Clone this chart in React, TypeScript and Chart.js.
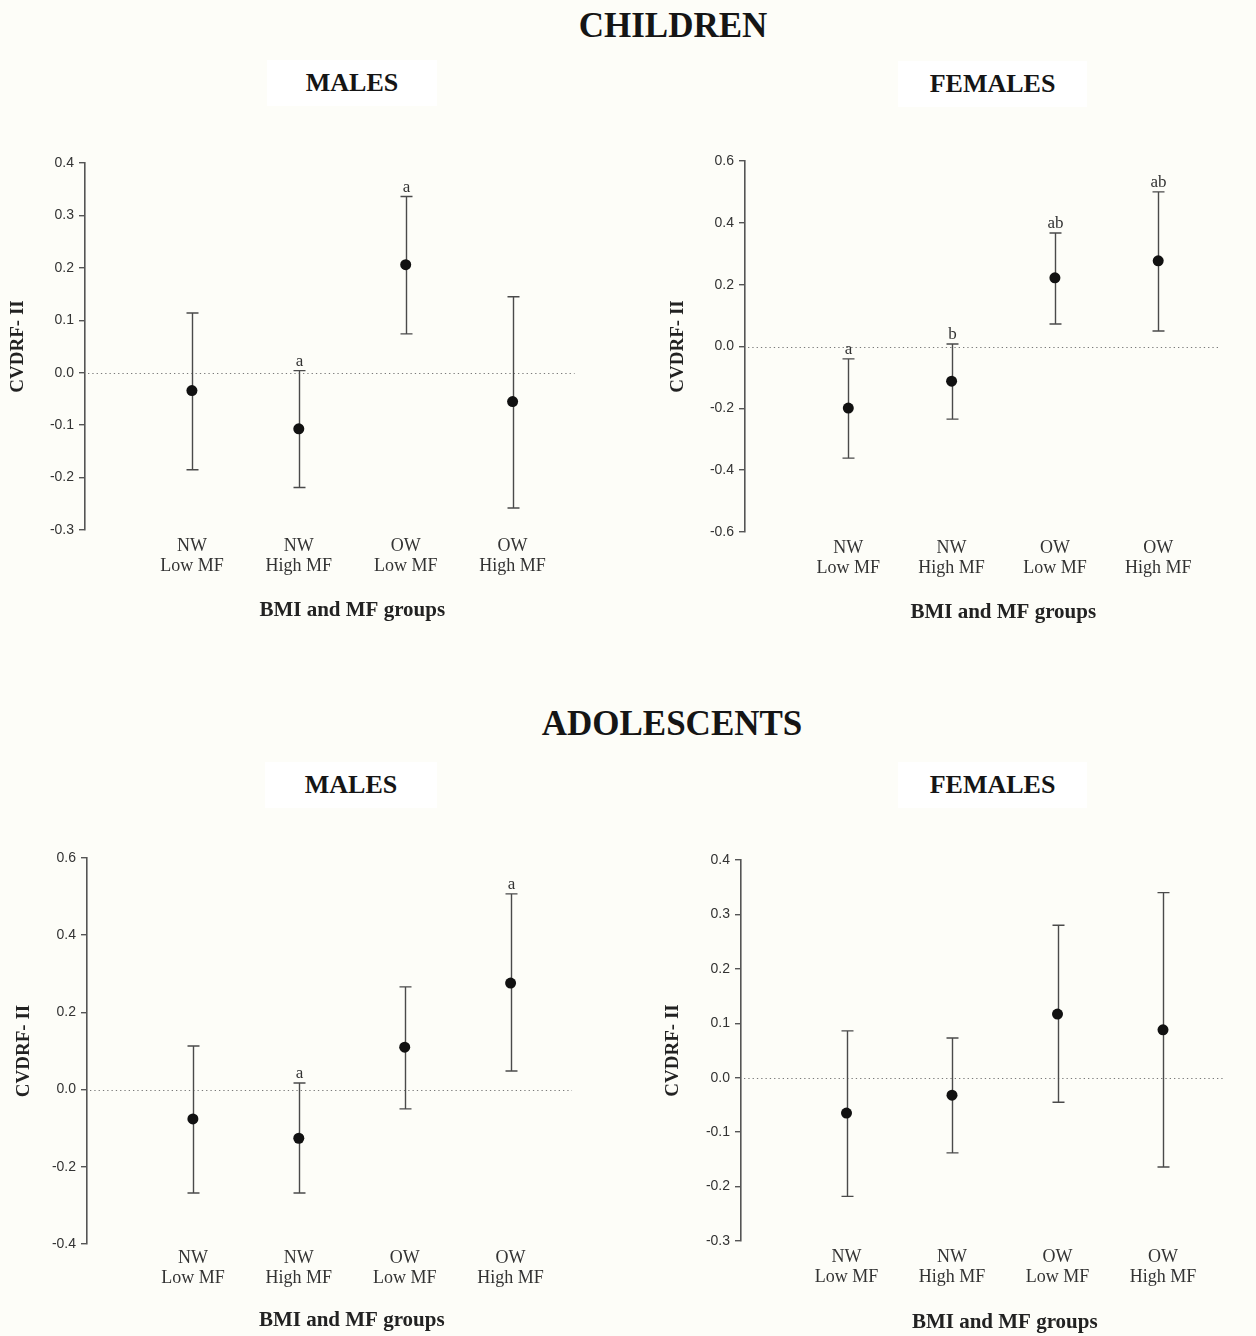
import React, { useEffect, useRef } from "react";
import { Chart, registerables } from "chart.js";

Chart.register(...registerables);

// Group categories along the x axis
const groupLabels: string[][] = [
  ["NW", "Low MF"],
  ["NW", "High MF"],
  ["OW", "Low MF"],
  ["OW", "High MF"],
];
const groupPositions = [1, 2, 3, 4];

// Children – males
const childMaleMean = [-0.034, -0.107, 0.206, -0.055];
const childMaleLow = [-0.185, -0.219, 0.074, -0.258];
const childMaleHigh = [0.114, 0.004, 0.336, 0.145];
const childMaleLetters = ["", "a", "a", ""];
const childMaleTicks = [-0.3, -0.2, -0.1, 0, 0.1, 0.2, 0.3, 0.4];

// Children – females
const childFemaleMean = [-0.199, -0.112, 0.222, 0.277];
const childFemaleLow = [-0.361, -0.235, 0.073, 0.05];
const childFemaleHigh = [-0.04, 0.008, 0.367, 0.5];
const childFemaleLetters = ["a", "b", "ab", "ab"];
const childFemaleTicks = [-0.6, -0.4, -0.2, 0, 0.2, 0.4, 0.6];

// Adolescents – males
const adolMaleMean = [-0.076, -0.126, 0.11, 0.276];
const adolMaleLow = [-0.268, -0.268, -0.05, 0.048];
const adolMaleHigh = [0.113, 0.017, 0.266, 0.507];
const adolMaleLetters = ["", "a", "", "a"];
const adolMaleTicks = [-0.4, -0.2, 0, 0.2, 0.4, 0.6];

// Adolescents – females
const adolFemaleMean = [-0.065, -0.032, 0.117, 0.088];
const adolFemaleLow = [-0.218, -0.138, -0.045, -0.164];
const adolFemaleHigh = [0.086, 0.073, 0.28, 0.34];
const adolFemaleLetters = ["", "", "", ""];
const adolFemaleTicks = [-0.3, -0.2, -0.1, 0, 0.1, 0.2, 0.3, 0.4];

const BG = "#fdfdf8";
const SERIF = "'Liberation Serif', 'Times New Roman', serif";
const SANS = "'Liberation Sans', Arial, sans-serif";

const errorBarPlugin = {
  id: "errorBars",
  beforeDatasetsDraw(chart: any, _args: any, opts: any) {
    const { ctx } = chart;
    const x = chart.scales.x;
    const y = chart.scales.y;
    ctx.save();
    // dotted reference line at zero
    const y0 = Math.round(y.getPixelForValue(0)) + 0.5;
    ctx.strokeStyle = "#7a7a7a";
    ctx.lineWidth = 1;
    ctx.setLineDash([1.3, 3]);
    ctx.beginPath();
    ctx.moveTo(x.getPixelForValue(0) + 3, y0);
    ctx.lineTo(x.getPixelForValue(opts.zeroEnd), y0);
    ctx.stroke();
    ctx.setLineDash([]);

    ctx.strokeStyle = "#4a4a4a";
    ctx.lineWidth = 1.4;
    const cap = 6;
    opts.low.forEach((lo: number, i: number) => {
      const px = Math.round(x.getPixelForValue(groupPositions[i])) + 0.5;
      const yl = y.getPixelForValue(lo);
      const yh = y.getPixelForValue(opts.high[i]);
      ctx.beginPath();
      ctx.moveTo(px, yl);
      ctx.lineTo(px, yh);
      ctx.moveTo(px - cap, yl);
      ctx.lineTo(px + cap, yl);
      ctx.moveTo(px - cap, yh);
      ctx.lineTo(px + cap, yh);
      ctx.stroke();
      const letter = opts.letters[i];
      if (letter) {
        ctx.fillStyle = "#333";
        ctx.font = `17px ${SERIF}`;
        ctx.textAlign = "center";
        ctx.textBaseline = "alphabetic";
        ctx.fillText(letter, px, yh - 5);
      }
    });
    ctx.restore();
  },
};

type PanelProps = {
  left: number;
  yTop: number;
  yBottom: number;
  width: number;
  xAxisHeight: number;
  yTitlePad: number;
  xTickPad: number;
  mean: number[];
  low: number[];
  high: number[];
  letters: string[];
  ticks: number[];
};

const fmt = (v: number) => {
  const r = Math.round(v * 10) / 10;
  return (Math.abs(r) < 1e-9 ? 0 : r).toFixed(1);
};

function Panel(p: PanelProps) {
  const ref = useRef<HTMLCanvasElement>(null);
  const padTop = 23;
  const height = padTop + (p.yBottom - p.yTop) + p.xAxisHeight;

  useEffect(() => {
    if (!ref.current) return;
    const chart = new Chart(ref.current, {
      type: "scatter",
      data: {
        datasets: [
          {
            data: groupPositions.map((g, i) => ({ x: g, y: p.mean[i] })),
            pointRadius: 5.5,
            pointBackgroundColor: "#111",
            pointBorderWidth: 0,
            showLine: false,
          },
        ],
      },
      plugins: [errorBarPlugin],
      options: {
        responsive: false,
        animation: false,
        layout: { padding: { top: padTop, left: 0, right: 0, bottom: 0 } },
        plugins: {
          legend: { display: false },
          tooltip: { enabled: false },
          errorBars: {
            low: p.low,
            high: p.high,
            letters: p.letters,
            zeroEnd: 4.58,
          },
        } as any,
        scales: {
          x: {
            type: "linear",
            min: 0,
            max: 5,
            afterFit: (s: any) => {
              s.height = p.xAxisHeight;
            },
            afterBuildTicks: (s: any) => {
              s.ticks = groupPositions.map((v) => ({ value: v }));
            },
            ticks: {
              callback: (v: any) => groupLabels[Math.round(Number(v)) - 1],
              font: { family: SERIF, size: 18, lineHeight: 1.12 },
              color: "#333",
              padding: p.xTickPad,
              autoSkip: false,
              maxRotation: 0,
            },
            grid: { display: false },
            border: { display: false },
            title: {
              display: true,
              text: "BMI and MF groups",
              font: { family: SERIF, size: 21, weight: "bold", lineHeight: 1.2 },
              color: "#222",
              padding: { top: 0, bottom: 7 },
            },
          },
          y: {
            min: p.ticks[0],
            max: p.ticks[p.ticks.length - 1],
            afterFit: (s: any) => {
              s.width = 85;
            },
            afterBuildTicks: (s: any) => {
              s.ticks = p.ticks.map((v) => ({ value: v }));
            },
            ticks: {
              callback: (v: any) => fmt(Number(v)),
              font: { family: SANS, size: 14 },
              color: "#333",
              padding: 5,
            },
            grid: {
              display: true,
              drawOnChartArea: false,
              drawTicks: true,
              tickLength: 6,
              color: "#555",
              lineWidth: 1.4,
            },
            border: { display: true, color: "#555", width: 1.6 },
            title: {
              display: true,
              text: "CVDRF- II",
              font: { family: SERIF, size: 19, weight: "bold", lineHeight: 1.2 },
              color: "#222",
              padding: { top: p.yTitlePad, bottom: 0 },
            },
          },
        },
      } as any,
    });
    return () => chart.destroy();
  }, []);

  return (
    <canvas
      ref={ref}
      width={p.width}
      height={height}
      style={{ position: "absolute", left: p.left, top: p.yTop - padTop, width: p.width, height }}
    />
  );
}

function Heading({ text, cx, cy, size }: { text: string; cx: number; cy: number; size: number }) {
  return (
    <div
      style={{
        position: "absolute",
        left: cx,
        top: cy,
        transform: "translate(-50%, -50%)",
        fontFamily: SERIF,
        fontWeight: "bold",
        fontSize: size,
        lineHeight: 1,
        color: "#151515",
        whiteSpace: "nowrap",
      }}
    >
      {text}
    </div>
  );
}

function SubBox({ text, left, top, w, h }: { text: string; left: number; top: number; w: number; h: number }) {
  return (
    <div
      style={{
        position: "absolute",
        left,
        top,
        width: w,
        height: h,
        background: "#ffffff",
        display: "flex",
        alignItems: "center",
        justifyContent: "center",
        fontFamily: SERIF,
        fontWeight: "bold",
        fontSize: 26,
        lineHeight: 1,
        color: "#151515",
      }}
    >
      {text}
    </div>
  );
}

export default function App() {
  return (
    <div
      style={{
        position: "fixed",
        left: 0,
        top: 0,
        width: 1256,
        height: 1336,
        overflow: "hidden",
        background: BG,
      }}
    >
      <Heading text="CHILDREN" cx={673} cy={25} size={35} />
      <SubBox text="MALES" left={267} top={60} w={170} h={46} />
      <SubBox text="FEMALES" left={898} top={61} w={189} h={46} />
      <Panel
        left={0}
        yTop={163}
        yBottom={530}
        width={625}
        xAxisHeight={100}
        yTitlePad={7}
        xTickPad={-2}
        mean={childMaleMean}
        low={childMaleLow}
        high={childMaleHigh}
        letters={childMaleLetters}
        ticks={childMaleTicks}
      />
      <Panel
        left={660}
        yTop={161}
        yBottom={532}
        width={607}
        xAxisHeight={100}
        yTitlePad={7}
        xTickPad={-2}
        mean={childFemaleMean}
        low={childFemaleLow}
        high={childFemaleHigh}
        letters={childFemaleLetters}
        ticks={childFemaleTicks}
      />

      <Heading text="ADOLESCENTS" cx={672} cy={723} size={35} />
      <SubBox text="MALES" left={265} top={762} w={172} h={46} />
      <SubBox text="FEMALES" left={898} top={762} w={189} h={46} />
      <Panel
        left={2}
        yTop={858}
        yBottom={1244}
        width={620}
        xAxisHeight={96}
        yTitlePad={11}
        xTickPad={-4}
        mean={adolMaleMean}
        low={adolMaleLow}
        high={adolMaleHigh}
        letters={adolMaleLetters}
        ticks={adolMaleTicks}
      />
      <Panel
        left={656}
        yTop={860}
        yBottom={1241}
        width={618}
        xAxisHeight={101}
        yTitlePad={6}
        xTickPad={-2}
        mean={adolFemaleMean}
        low={adolFemaleLow}
        high={adolFemaleHigh}
        letters={adolFemaleLetters}
        ticks={adolFemaleTicks}
      />
    </div>
  );
}
